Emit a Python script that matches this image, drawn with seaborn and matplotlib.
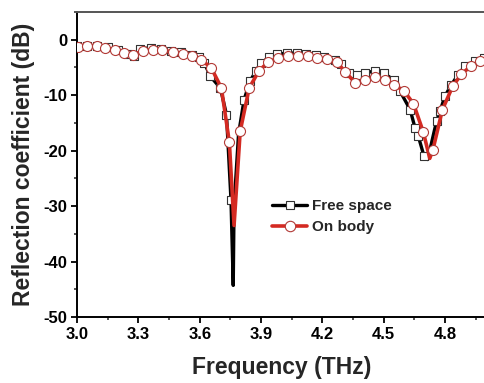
import numpy as np
import pandas as pd
import matplotlib
matplotlib.use("Agg")
import matplotlib.pyplot as plt
from matplotlib.lines import Line2D
from matplotlib.ticker import MultipleLocator
import seaborn as sns

# ---- data ----
# Free space (black, squares); fs_mark = 1 where a square marker is drawn
fs_freq = [3.000, 3.050, 3.100, 3.150, 3.200, 3.250, 3.280, 3.310, 3.360, 3.410,
           3.460, 3.510, 3.560, 3.595, 3.623, 3.652, 3.701, 3.731, 3.753, 3.764,
           3.768, 3.790, 3.817, 3.847, 3.874, 3.899, 3.940, 3.980, 4.028, 4.075,
           4.120, 4.170, 4.210, 4.260, 4.290, 4.330, 4.370, 4.410, 4.458, 4.500,
           4.550, 4.580, 4.629, 4.653, 4.669, 4.697, 4.715, 4.758, 4.775, 4.799,
           4.831, 4.864, 4.896, 4.945, 4.990]
fs_db = [-1.2, -1.1, -1.1, -1.4, -1.8, -2.6, -3.0, -1.6, -1.5, -1.7,
         -2.0, -2.3, -2.7, -3.2, -4.2, -6.6, -8.7, -13.5, -28.9, -44.3,
         -30.0, -17.0, -10.8, -7.4, -5.7, -4.2, -3.2, -2.6, -2.4, -2.4,
         -2.5, -2.8, -3.1, -3.6, -4.3, -6.0, -6.3, -6.0, -5.6, -6.0,
         -7.3, -9.3, -12.6, -15.9, -17.4, -21.0, -21.6, -14.7, -12.9, -10.2,
         -8.1, -6.3, -4.8, -3.9, -3.3]
fs_mark = [1, 1, 1, 1, 1, 1, 1, 1, 1, 1,
           1, 1, 1, 1, 1, 1, 1, 1, 1, 0,
           0, 0, 1, 1, 1, 1, 1, 1, 1, 1,
           1, 1, 1, 1, 1, 1, 1, 1, 1, 1,
           1, 1, 1, 1, 1, 1, 0, 1, 1, 1,
           1, 1, 1, 1, 1]

# On body (red, circles); ob_mark = 1 where a circle marker is drawn
ob_freq = [3.005, 3.049, 3.097, 3.136, 3.185, 3.229, 3.272, 3.321, 3.370, 3.418,
           3.467, 3.516, 3.564, 3.608, 3.657, 3.706, 3.745, 3.768, 3.798, 3.842,
           3.890, 3.936, 3.985, 4.032, 4.080, 4.128, 4.175, 4.221, 4.269, 4.312,
           4.361, 4.410, 4.458, 4.504, 4.552, 4.600, 4.645, 4.693, 4.725, 4.740,
           4.787, 4.837, 4.880, 4.928, 4.972]
ob_db = [-1.4, -1.2, -1.2, -1.5, -1.9, -2.4, -2.8, -2.0, -1.8, -1.9,
         -2.2, -2.5, -2.9, -3.6, -5.1, -8.7, -18.5, -33.5, -16.5, -8.7,
         -5.6, -4.0, -3.3, -3.0, -3.0, -3.0, -3.3, -3.5, -4.0, -5.8,
         -7.8, -7.2, -6.7, -7.2, -8.1, -9.3, -11.5, -16.6, -21.4, -19.9,
         -12.6, -8.4, -6.2, -4.7, -3.8]
ob_mark = [1, 1, 1, 1, 1, 1, 1, 1, 1, 1,
           1, 1, 1, 1, 1, 1, 1, 0, 1, 1,
           1, 1, 1, 1, 1, 1, 1, 1, 1, 1,
           1, 1, 1, 1, 1, 1, 1, 1, 0, 1,
           1, 1, 1, 1, 1]

series_names = ["Free space", "On body"]
x_ticks = [3.0, 3.3, 3.6, 3.9, 4.2, 4.5, 4.8]
y_ticks = [-50, -40, -30, -20, -10, 0]

# ---- style ----
sns.set_style("ticks")
plt.rcParams["font.family"] = ["Liberation Sans", "DejaVu Sans"]
plt.rcParams["font.weight"] = "bold"

BLACK = "#000000"
RED = "#d42a22"

fs = pd.DataFrame({"f": fs_freq, "db": fs_db, "m": fs_mark})
ob = pd.DataFrame({"f": ob_freq, "db": ob_db, "m": ob_mark})

fig = plt.figure(figsize=(4.84, 3.83), dpi=100)
ax = fig.add_axes([77 / 484, 66 / 383, 409 / 484, 305 / 383])

sns.lineplot(data=fs, x="f", y="db", ax=ax, color=BLACK, lw=2.4, sort=False, zorder=2)
sns.scatterplot(data=fs[fs.m == 1], x="f", y="db", ax=ax, marker="s", s=34,
                facecolor="white", edgecolor="#333333", linewidth=0.8, zorder=3)
sns.lineplot(data=ob, x="f", y="db", ax=ax, color=RED, lw=2.6, sort=False, zorder=4)
sns.scatterplot(data=ob[ob.m == 1], x="f", y="db", ax=ax, marker="o", s=52,
                facecolor="white", edgecolor="#b23a36", linewidth=0.8, zorder=5)

ax.set_xlim(3.0, 5.0)
ax.set_ylim(-50, 5)
ax.set_xticks(x_ticks)
ax.set_yticks(y_ticks)
ax.set_xticklabels([f"{v:.1f}" for v in x_ticks])
ax.set_yticklabels([str(v) for v in y_ticks])
ax.xaxis.set_minor_locator(MultipleLocator(0.15))
ax.yaxis.set_minor_locator(MultipleLocator(5))
ax.tick_params(axis="both", which="major", direction="out", length=4, width=1.3,
               labelsize=12, pad=3, colors="black")
ax.tick_params(axis="both", which="minor", direction="out", length=2.5, width=1.1)
for lab in ax.get_xticklabels() + ax.get_yticklabels():
    lab.set_fontweight("bold")

for side in ["left", "bottom"]:
    ax.spines[side].set_color("black")
    ax.spines[side].set_linewidth(1.4)
ax.spines["top"].set_visible(True)
ax.spines["top"].set_color("#555555")
ax.spines["top"].set_linewidth(1.4)
ax.spines["right"].set_visible(False)

ax.set_xlabel("Frequency (THz)", fontsize=16.5, fontweight="bold", labelpad=10)
ax.set_ylabel("Reflection coefficient (dB)", fontsize=16.5, fontweight="bold", labelpad=6)

handles = [
    Line2D([0], [0], color=BLACK, lw=2.4, marker="s", markersize=6,
           markerfacecolor="white", markeredgecolor="#333333", markeredgewidth=0.8),
    Line2D([0], [0], color=RED, lw=2.6, marker="o", markersize=7.5,
           markerfacecolor="white", markeredgecolor="#b23a36", markeredgewidth=0.8),
]
leg = ax.legend(handles, series_names, loc="upper left",
                bbox_to_anchor=(272 / 484, 1 - 199 / 383), bbox_transform=fig.transFigure,
                frameon=False, fontsize=11, handlelength=2.3, handletextpad=0.3,
                labelspacing=0.45, borderpad=0, borderaxespad=0)
for t in leg.get_texts():
    t.set_fontweight("bold")

fig.savefig("out.png", dpi=100)
